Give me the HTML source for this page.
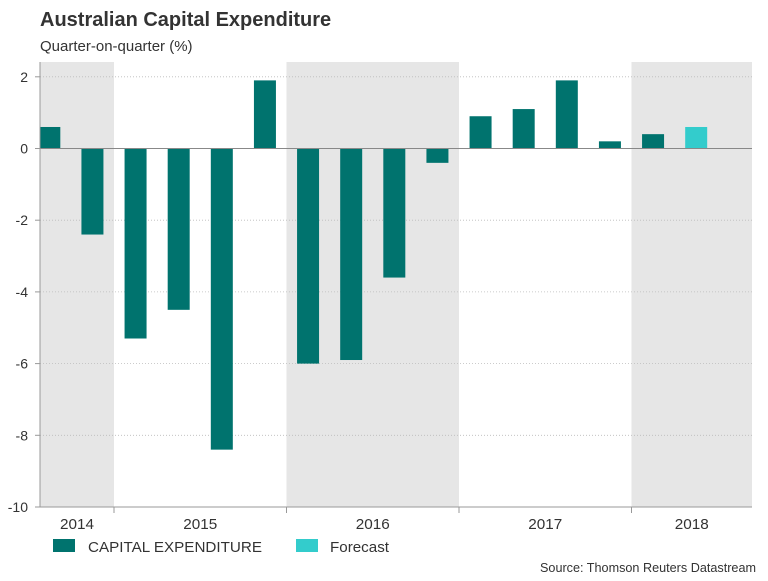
<!DOCTYPE html>
<html><head><meta charset="utf-8"><style>
body{margin:0;background:#fff;width:768px;height:576px;overflow:hidden;font-family:"Liberation Sans",Arial,sans-serif;}
</style></head><body>
<svg id="chart" width="768" height="576" xmlns="http://www.w3.org/2000/svg">
<text x="40" y="26" font-size="20" font-weight="bold" fill="#333">Australian Capital Expenditure</text>
<text x="40" y="51" font-size="15" fill="#333">Quarter-on-quarter (%)</text>
<g id="bands"></g><g id="grid"></g><g id="bars"></g><g id="axes"></g>
<g>
<rect x="53" y="539" width="22" height="13" fill="#00736e"/>
<text x="88" y="552" font-size="15" fill="#333" textLength="174" lengthAdjust="spacingAndGlyphs">CAPITAL EXPENDITURE</text>
<rect x="296" y="539" width="22" height="13" fill="#33cccc"/>
<text x="330" y="552" font-size="15" fill="#333" textLength="59" lengthAdjust="spacingAndGlyphs">Forecast</text>
</g>
<text x="756" y="572" font-size="13" fill="#333" text-anchor="end" textLength="216" lengthAdjust="spacingAndGlyphs">Source: Thomson Reuters Datastream</text>
</svg>
<script>
const values = [0.6,-2.4,-5.3,-4.5,-8.4,1.9,-6.0,-5.9,-3.6,-0.4,0.9,1.1,1.9,0.2,0.4,0.6];
const forecast = [false,false,false,false,false,false,false,false,false,false,false,false,false,false,false,true];
const years = ["2014","2015","2016","2017","2018"];
const yTicks = [2,0,-2,-4,-6,-8,-10];
const NS="http://www.w3.org/2000/svg";
const L=40,R=752,T=62,B=507;
const q=43.125, x0=114-1.5*q;
const xc=i=>x0+i*q;
const y=v=>148.5+(0-v)*(B-148.5)/10;
function mk(tag,attrs,parent){const e=document.createElementNS(NS,tag);for(const k in attrs)e.setAttribute(k,attrs[k]);document.getElementById(parent).appendChild(e);return e;}
const yb=k=>114+(k-1)*4*q;
years.forEach((yr,k)=>{
  const a=Math.max(L,yb(k)),b=Math.min(R,yb(k+1));
  if(k%2===0){const r=mk('rect',{x:a,y:T,width:b-a,height:B-T,fill:'#e6e6e6'},'bands');
    
    }
  const t=mk('text',{x:(a+b)/2,y:529,'font-size':15,fill:'#333','text-anchor':'middle',textLength:34,lengthAdjust:'spacingAndGlyphs'},'axes');t.textContent=yr;
  
  
  if(k>0){const tk=mk('line',{x1:yb(k),x2:yb(k),y1:B,y2:B+6,stroke:'#999'},'axes');
    
    }
});
yTicks.forEach(v=>{
  if(v!==0&&v!==-10){const g=mk('line',{x1:L,x2:R,y1:y(v),y2:y(v),stroke:'#bbb','stroke-dasharray':'1,2','stroke-width':0.8},'grid');
    
    }
  const t=mk('text',{x:28,y:y(v)+5,'font-size':14,fill:'#333','text-anchor':'end'},'axes');t.textContent=v;
  
  
  const tk=mk('line',{x1:L-5,x2:L,y1:y(v),y2:y(v),stroke:'#999'},'axes');
  
  
});
values.forEach((v,i)=>{
  let a=xc(i)-11,b=xc(i)+11;a=Math.max(a,L);
  const r=mk('rect',{x:a,y:Math.min(y(v),y(0)),width:b-a,height:Math.abs(y(v)-y(0)),fill:forecast[i]?'#33cccc':'#00736e'},'bars');
  
  
});
const z=mk('line',{x1:L,x2:R,y1:y(0),y2:y(0),stroke:'#888','stroke-width':1},'axes');


const ya=mk('line',{x1:L,x2:L,y1:T,y2:B,stroke:'#999'},'axes');


const xa=mk('line',{x1:L,x2:R,y1:B,y2:B,stroke:'#999'},'axes');


</script>
</body></html>
